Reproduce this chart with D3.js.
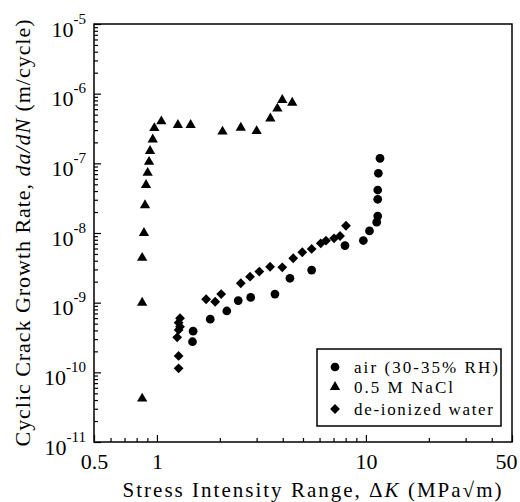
<!DOCTYPE html>
<html>
<head>
<meta charset="utf-8">
<script src="https://cdn.jsdelivr.net/npm/d3@7"></script>
<style>
  body { margin: 0; background: #fff; }
  svg { display: block; }
  text { font-family: "Liberation Serif", "Times New Roman", serif; fill: #000; }
</style>
</head>
<body>
<div id="chart"></div>
<script>
// [ΔK (MPa√m), da/dN (m/cycle)]
const airData = [
  [1.48, 2.75e-10], [1.49, 3.9e-10], [1.80, 5.8e-10], [2.16, 7.6e-10],
  [2.45, 1.07e-9], [2.81, 1.19e-9], [3.67, 1.33e-9], [4.33, 2.24e-9],
  [5.50, 2.94e-9], [7.94, 6.6e-9], [9.72, 7.8e-9], [10.4, 1.07e-8],
  [11.26, 1.43e-8], [11.39, 1.75e-8], [11.39, 3.05e-8], [11.39, 4.14e-8],
  [11.47, 7.2e-8], [11.68, 1.18e-7]
];
const naclData = [
  [0.85, 4.2e-11], [0.85, 1.0e-9], [0.85, 4.4e-9], [0.867, 1.0e-8],
  [0.877, 2.5e-8], [0.887, 4.9e-8], [0.903, 7.3e-8], [0.917, 1.05e-7],
  [0.927, 1.5e-7], [0.955, 2.2e-7], [0.972, 3.2e-7], [1.05, 4.0e-7],
  [1.26, 3.55e-7], [1.45, 3.55e-7], [2.06, 2.85e-7], [2.52, 3.25e-7],
  [3.0, 2.9e-7], [3.49, 4.4e-7], [3.77, 6.1e-7], [3.98, 8.1e-7], [4.44, 7.4e-7]
];
const waterData = [
  [1.29, 5.97e-10], [1.27, 5.16e-10], [1.29, 4.52e-10], [1.27, 4.06e-10],
  [1.25, 3.18e-10], [1.27, 1.72e-10], [1.27, 1.14e-10], [1.72, 1.12e-9],
  [1.90, 1.03e-9], [2.03, 1.33e-9], [2.52, 1.90e-9], [2.79, 2.36e-9],
  [3.09, 2.79e-9], [3.48, 3.28e-9], [3.98, 3.22e-9], [4.49, 4.34e-9],
  [4.96, 5.29e-9], [5.50, 5.90e-9], [6.08, 7.11e-9], [6.44, 7.76e-9],
  [7.04, 8.39e-9], [7.52, 9.06e-9], [8.03, 1.27e-8]
];
const xTickValues = [0.5, 1, 10, 50];
const xMinorValues = [0.6, 0.7, 0.8, 0.9, 2, 3, 4, 5, 6, 7, 8, 9, 20, 30, 40];
const yExponents = [-5, -6, -7, -8, -9, -10, -11];
const legendLabels = ["air (30-35% RH)", "0.5 M NaCl", "de-ionized water"];

const margin = { top: 24, right: 8, bottom: 60, left: 94 };
const width = 418;
const height = 418;

const svg = d3.select("#chart")
  .append("svg")
  .attr("width", 520)
  .attr("height", 502);

const g = svg.append("g")
  .attr("transform", `translate(${margin.left},${margin.top})`);

const x = d3.scaleLog().domain([0.5, 50]).range([0, width]);
const y = d3.scaleLog().domain([1e-11, 1e-5]).range([height, 0]);

// minor y ticks 2..9 in each decade
const yMinorValues = [];
yExponents.slice(1).forEach(e => {
  for (let m = 2; m <= 9; m++) yMinorValues.push(m * Math.pow(10, e));
});

// minor ticks (inward)
g.append("g")
  .attr("transform", `translate(0,${height})`)
  .call(d3.axisBottom(x).tickValues(xMinorValues).tickSize(-4).tickFormat(""));
g.append("g")
  .call(d3.axisLeft(y).tickValues(yMinorValues).tickSize(-4).tickFormat(""));

// major x axis
const xAxis = g.append("g")
  .attr("transform", `translate(0,${height})`)
  .call(d3.axisBottom(x).tickValues(xTickValues).tickSizeInner(-7).tickSizeOuter(0)
    .tickFormat(d => d3.format("~g")(d)));
xAxis.selectAll("text")
  .attr("y", 27)
  .attr("dy", null)
  .attr("dx", d => d === 50 ? -6 : 0)
  .style("font-size", "22px");

// major y axis with 10^n labels
const yAxis = g.append("g")
  .call(d3.axisLeft(y).tickValues(yExponents.map(e => Math.pow(10, e)))
    .tickSizeInner(-7).tickSizeOuter(0).tickFormat(""));
yAxis.selectAll(".tick").each(function(d) {
  const t = d3.select(this).append("text")
    .attr("x", -8)
    .attr("y", 12)
    .attr("text-anchor", "end");
  t.append("tspan").style("font-size", "22px").text("10");
  t.append("tspan").style("font-size", "15px").attr("dy", -13)
    .text(String(Math.round(Math.log10(d))));
});

g.selectAll(".domain").remove();
g.selectAll(".tick line").attr("stroke", "#000").attr("stroke-width", 1.2);

// frame
g.append("rect")
  .attr("width", width)
  .attr("height", height)
  .attr("fill", "none")
  .attr("stroke", "#000")
  .attr("stroke-width", 1.5);

// data points
const circle = d3.symbol().type(d3.symbolCircle).size(60);
const triangle = d3.symbol().type(d3.symbolTriangle).size(46);
const diamond = d3.symbol().type(d3.symbolSquare).size(48);

g.selectAll("path.air")
  .data(airData)
  .join("path")
  .attr("class", "air")
  .attr("d", circle)
  .attr("transform", d => `translate(${x(d[0])},${y(d[1])})`)
  .attr("fill", "#000");

g.selectAll("path.nacl")
  .data(naclData)
  .join("path")
  .attr("class", "nacl")
  .attr("d", triangle)
  .attr("transform", d => `translate(${x(d[0])},${y(d[1])})`)
  .attr("fill", "#000");

g.selectAll("path.water")
  .data(waterData)
  .join("path")
  .attr("class", "water")
  .attr("d", diamond)
  .attr("transform", d => `translate(${x(d[0])},${y(d[1])}) rotate(45)`)
  .attr("fill", "#000");

// legend
const legend = svg.append("g").attr("transform", "translate(317,349)");
legend.append("rect")
  .attr("width", 184)
  .attr("height", 77)
  .attr("fill", "#fff")
  .attr("stroke", "#000")
  .attr("stroke-width", 1.5);

const legendSymbols = [circle, triangle, diamond];
const legendRows = [18, 38, 60];
const legendWidths = [144, 99, 139];
legendLabels.forEach((label, i) => {
  legend.append("path")
    .attr("d", legendSymbols[i])
    .attr("transform", `translate(18,${legendRows[i]})${i === 2 ? " rotate(45)" : ""}`)
    .attr("fill", "#000");
  legend.append("text")
    .attr("x", 37)
    .attr("y", legendRows[i] + 5.5)
    .attr("textLength", legendWidths[i])
    .attr("lengthAdjust", "spacing")
    .style("font-size", "17px")
    .text(label);
});

// axis titles
const xTitle = svg.append("text")
  .attr("x", 312)
  .attr("y", 497)
  .attr("text-anchor", "middle")
  .attr("textLength", 379)
  .attr("lengthAdjust", "spacing")
  .style("font-size", "21px");
xTitle.append("tspan").text("Stress Intensity Range, \u0394");
xTitle.append("tspan").style("font-style", "italic").text("K");
xTitle.append("tspan").text(" (MPa\u221Am)");

const yTitle = svg.append("text")
  .attr("transform", "translate(30,233) rotate(-90)")
  .attr("text-anchor", "middle")
  .attr("textLength", 427)
  .attr("lengthAdjust", "spacing")
  .style("font-size", "22px");
yTitle.append("tspan").text("Cyclic Crack Growth Rate, ");
yTitle.append("tspan").style("font-style", "italic").text("da/dN");
yTitle.append("tspan").text(" (m/cycle)");
</script>
</body>
</html>
